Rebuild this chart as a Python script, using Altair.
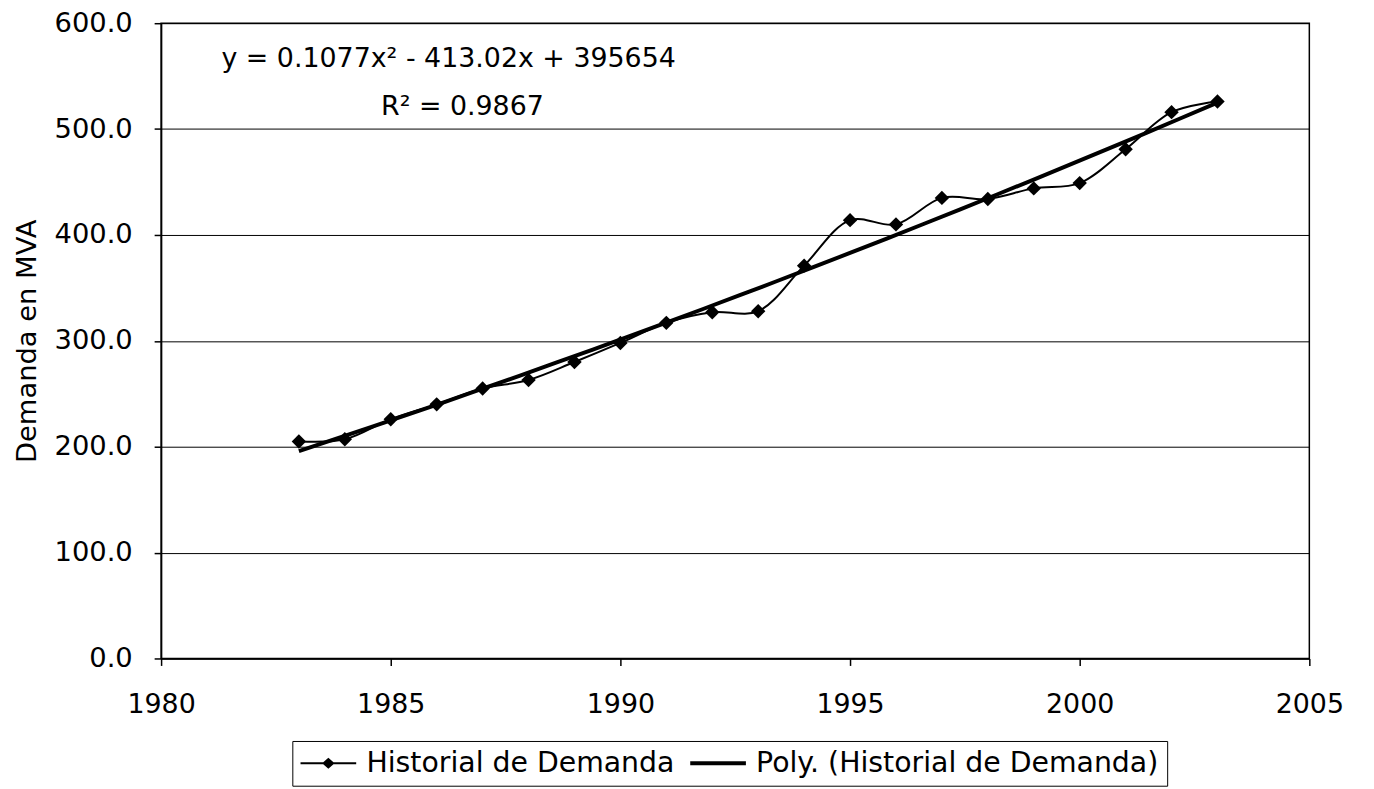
import altair as alt
import pandas as pd

# ---- data ----
years = list(range(1983, 2004))
demanda = [205, 207, 226, 240, 255, 263, 280, 298, 317, 327, 328, 371,
           414, 410, 435, 434, 444, 449, 481, 516, 526]
series_names = ["Historial de Demanda", "Poly. (Historial de Demanda)"]
ann_text = ["y = 0.1077x\u00b2 - 413.02x + 395654", "R\u00b2 = 0.9867"]
ann_x = [1986.26, 1986.56]
ann_y = [566, 521]
x_ticks = [1980, 1985, 1990, 1995, 2000, 2005]
y_ticks = [0, 100, 200, 300, 400, 500, 600]

df = pd.DataFrame({"year": years, "demanda": demanda, "serie": series_names[0]})
ann = pd.DataFrame({"year": ann_x, "demanda": ann_y, "text": ann_text})

FONT = "DejaVu Sans"
xscale = alt.Scale(domain=[1980, 2005], nice=False, zero=False)
yscale = alt.Scale(domain=[0, 600], nice=False)

x_axis = alt.Axis(values=x_ticks, format="d", title=None, grid=False,
                  labelFont=FONT, labelFontSize=27, labelColor="black",
                  labelPadding=26, tickSize=7, tickColor="black", tickWidth=1.5,
                  domainColor="black", domainWidth=1.5, labelFlush=False)
y_axis = alt.Axis(values=y_ticks, format=".1f", title="Demanda en MVA",
                  titleFont=FONT, titleFontSize=27.5, titleFontWeight="normal",
                  titleColor="black", titlePadding=13,
                  labelFont=FONT, labelFontSize=27.5, labelColor="black",
                  labelPadding=22, tickSize=7, tickColor="black", tickWidth=1.5,
                  domainColor="black", domainWidth=1.5,
                  grid=True, gridColor="black", gridWidth=1, gridOpacity=1)

X = alt.X("year:Q", scale=xscale, axis=x_axis)
Y = alt.Y("demanda:Q", scale=yscale, axis=y_axis)

# legend symbols: thin bar + diamond, and thick bar
path1 = "M-1,-0.07L3,-0.07L3,0.07L-1,0.07ZM1,-0.4L1.45,0L1,0.4L0.55,0Z"
path2 = "M-1,-0.14L3,-0.14L3,0.14L-1,0.14Z"

line = alt.Chart(df).mark_line(interpolate="catmull-rom", strokeWidth=2,
                               color="black").encode(x=X, y=Y)

trend = (alt.Chart(df)
         .transform_regression("year", "demanda", method="poly", order=2)
         .mark_line(strokeWidth=4, color="black")
         .encode(x=X, y=Y))

pts = alt.Chart(df).mark_point(shape="diamond", filled=True, size=210,
                               color="black", opacity=1).encode(x=X, y=Y)

legend_layer = (alt.Chart(df)
                .transform_filter("false")
                .mark_point(filled=True, size=784, color="black", opacity=1)
                .encode(
                    x=X, y=Y,
                    shape=alt.Shape(
                        "serie:N",
                        scale=alt.Scale(domain=series_names, range=[path1, path2]),
                        legend=alt.Legend(
                            title=None, orient="none", legendX=132, legendY=722,
                            direction="horizontal", labelFont=FONT,
                            labelFontSize=28.5, labelColor="black",
                            labelOffset=38, columnPadding=15, padding=8,
                            strokeColor="black", symbolSize=784,
                            symbolFillColor="black", symbolStrokeWidth=0,
                            symbolOpacity=1, labelLimit=1000))))

txt = alt.Chart(ann).mark_text(font=FONT, fontSize=27, align="center",
                               baseline="middle", color="black").encode(
    x=X, y=Y, text="text:N")

chart = (alt.layer(line, trend, pts, txt, legend_layer)
         .properties(width=1155, height=639,
                     autosize=alt.AutoSizeParams(type="none"),
                     padding={"left": 154, "top": 13, "right": 57, "bottom": 129},
                     background="white")
         .configure_view(stroke="black", strokeWidth=1.5))

chart.save("out.html", embed_options={"renderer": "svg", "actions": False})
